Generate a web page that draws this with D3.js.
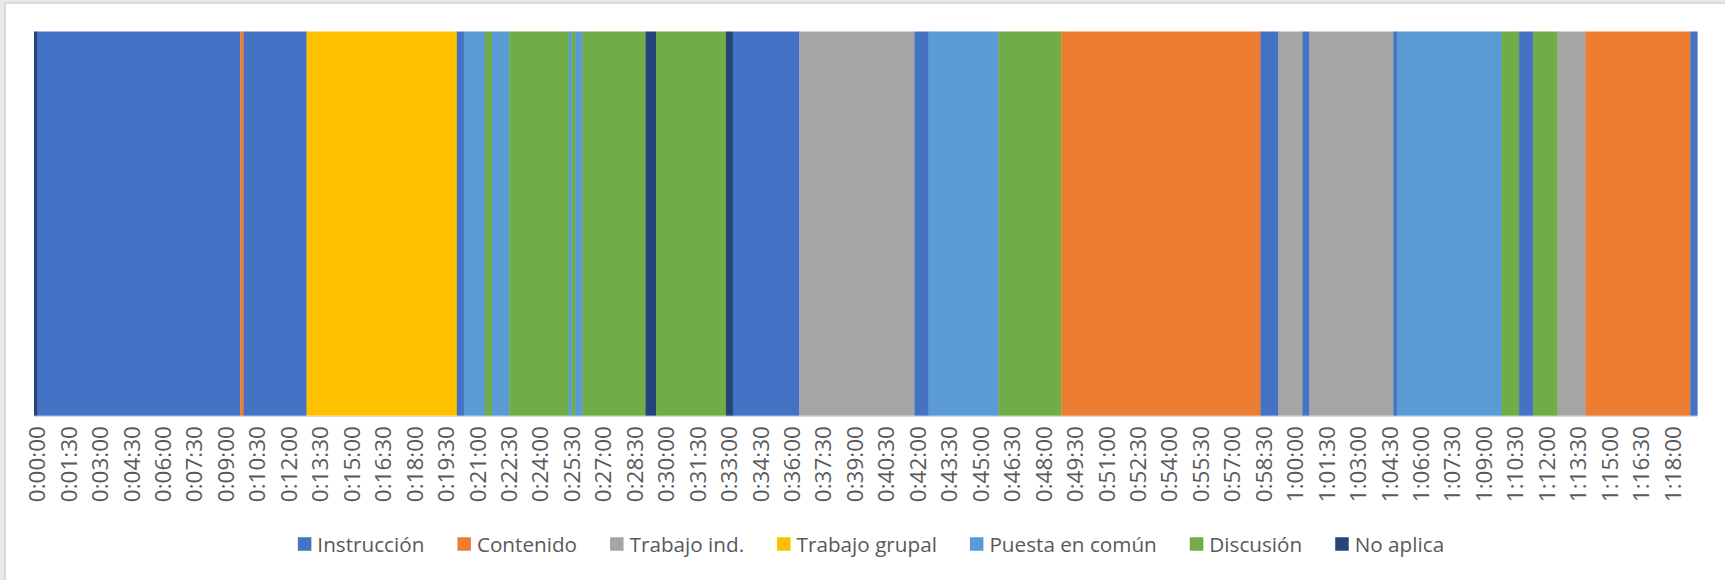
<!DOCTYPE html>
<html><head><meta charset="utf-8">
<script src="https://cdn.jsdelivr.net/npm/d3@7"></script>
<style>html,body{margin:0;padding:0;background:#fff;} svg{display:block}</style>
</head><body><svg id="chart" width="1725" height="580"></svg>
<script>
// ---------- data ----------
const categories = ["Instrucción","Contenido","Trabajo ind.","Trabajo grupal","Puesta en común","Discusión","No aplica"];
const categoryColors = ["#4472C4","#ED7D31","#A5A5A5","#FFC000","#5B9BD5","#70AD47","#264478"];

// activity of each consecutive segment
const segmentActivity = [
  "No aplica","Instrucción","Contenido","Instrucción","Trabajo grupal","Instrucción",
  "Puesta en común","Discusión","Puesta en común","Discusión","Puesta en común","Discusión",
  "Puesta en común","Discusión","No aplica","Discusión","No aplica","Instrucción",
  "Trabajo ind.","Instrucción","Puesta en común","Discusión","Contenido","Instrucción",
  "Trabajo ind.","Instrucción","Trabajo ind.","Instrucción","Puesta en común","Discusión",
  "Instrucción","Discusión","Trabajo ind.","Contenido","Instrucción"
];
// end time of each segment, in seconds (each starts where the previous ends)
const segmentEnd = [
  10,590,600,780,1210,1230,
  1290,1310,1360,1530,1540,1550,
  1570,1750,1780,1980,2000,2190,
  2520,2560,2760,2940,3510,3560,
  3630,3650,3890,3900,4200,4250,
  4290,4360,4440,4740,4760
];
const stepSeconds = 10; // one category = 10 s
const tickLabels = [
  "0:00:00","0:01:30","0:03:00","0:04:30","0:06:00","0:07:30","0:09:00","0:10:30","0:12:00",
  "0:13:30","0:15:00","0:16:30","0:18:00","0:19:30","0:21:00","0:22:30","0:24:00","0:25:30",
  "0:27:00","0:28:30","0:30:00","0:31:30","0:33:00","0:34:30","0:36:00","0:37:30","0:39:00",
  "0:40:30","0:42:00","0:43:30","0:45:00","0:46:30","0:48:00","0:49:30","0:51:00","0:52:30",
  "0:54:00","0:55:30","0:57:00","0:58:30","1:00:00","1:01:30","1:03:00","1:04:30","1:06:00",
  "1:07:30","1:09:00","1:10:30","1:12:00","1:13:30","1:15:00","1:16:30","1:18:00"
];

// ---------- build ----------
const segments = segmentActivity.map((a, i) => ({
  activity: a,
  start: i === 0 ? 0 : segmentEnd[i - 1],
  end: segmentEnd[i]
}));
const toSec = s => { const p = s.split(":").map(Number); return p[0]*3600 + p[1]*60 + p[2]; };

const svg = d3.select("#chart");
const W = 1725, H = 580;
const plot = {left: 34, right: 1697.3, top: 31.5, bottom: 415.7};

// frame
svg.append("rect").attr("x",0).attr("y",0).attr("width",W).attr("height",H).attr("fill","#e9e9ec");
svg.append("rect").attr("x",5).attr("y",3).attr("width",W).attr("height",H)
  .attr("fill","#fff").attr("stroke","#d2d2d2").attr("stroke-width",1.5);

const x = d3.scaleLinear().domain([0, d3.max(segmentEnd)]).range([plot.left, plot.right]);
const y = d3.scaleLinear().domain([0, 1]).range([plot.bottom, plot.top]);
const color = d3.scaleOrdinal().domain(categories).range(categoryColors);

svg.append("g").selectAll("rect").data(segments).join("rect")
  .attr("x", d => x(d.start))
  .attr("width", d => x(d.end) - x(d.start) + 0.3)
  .attr("y", y(1))
  .attr("height", y(0) - y(1))
  .attr("fill", d => color(d.activity));

// axis line
svg.append("line").attr("x1", plot.left).attr("x2", plot.right)
  .attr("y1", plot.bottom + 0.8).attr("y2", plot.bottom + 0.8)
  .attr("stroke", "#d9d9d9").attr("stroke-width", 1.2);

// tick labels (centered on their 10-s category)
svg.append("g").selectAll("text").data(tickLabels).join("text")
  .attr("transform", d => `translate(${x(toSec(d) + stepSeconds/2) + 1},426) rotate(-90)`)
  .attr("text-anchor", "end")
  .attr("dominant-baseline", "central")
  .attr("font-family", "'Open Sans', sans-serif")
  .attr("font-size", 22.5)
  .attr("fill", "#595959")
  .text(d => d);

// legend
const lg = svg.append("g");
const items = lg.selectAll("g").data(categories).join("g");
items.append("rect").attr("width", 13.5).attr("height", 13.5).attr("y", -6.75)
  .attr("fill", d => color(d));
items.append("text").attr("x", 19.5).attr("dominant-baseline", "central")
  .attr("font-family", "'Open Sans', sans-serif").attr("font-size", 20.7)
  .attr("fill", "#595959").text(d => d);
let cx = 0;
const pos = [];
items.each(function() {
  const w = d3.select(this).select("text").node().getComputedTextLength();
  pos.push(cx);
  cx += 19.5 + w + 33;
});
const total = cx - 33;
const start = 871 - total / 2;
items.attr("transform", (d, i) => `translate(${start + pos[i]},544)`);
</script></body></html>
